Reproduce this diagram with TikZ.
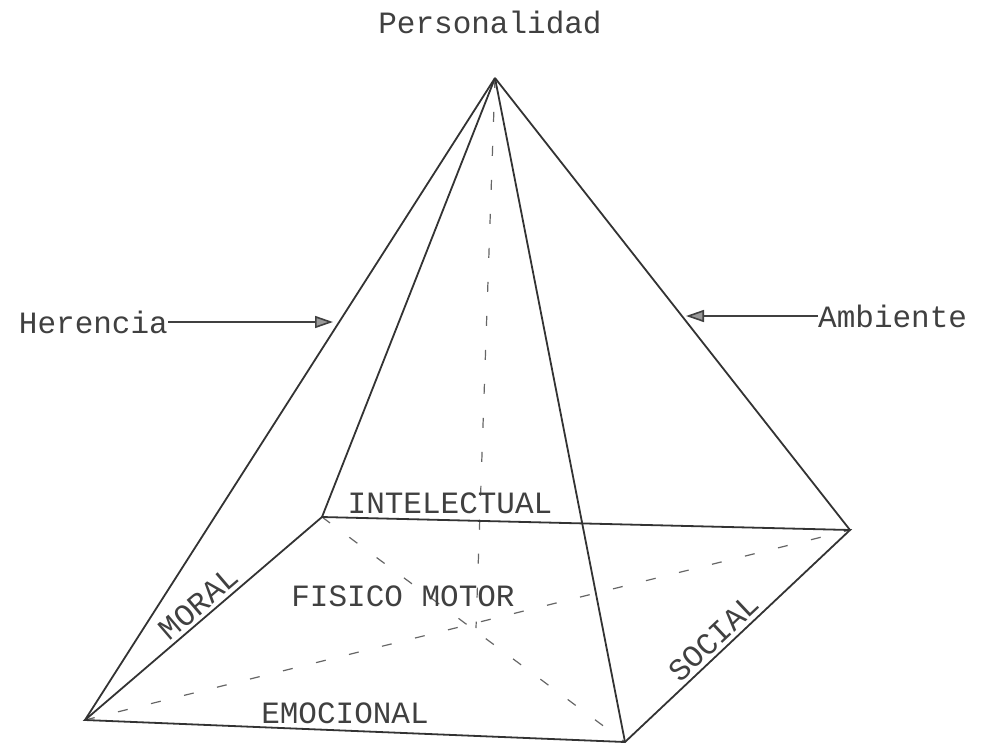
\documentclass[tikz,border=0pt]{standalone}
\usepackage{fontspec}
\setmainfont{Liberation Mono}
\usetikzlibrary{arrows.meta}
\begin{document}
\begin{tikzpicture}[x=1pt,y=-1pt,
  edge/.style={draw=black!80, line width=1.8pt},
  hidden/.style={draw=black!60, line width=1.2pt, dash pattern=on 10pt off 24pt},
  lbl/.style={font=\fontsize{31}{36}\selectfont, text=black!75, inner sep=0pt},
  pointer/.style={draw=black!75, line width=1.6pt, -{Triangle[length=18pt,width=12pt,fill=black!40]}}]
\useasboundingbox (0,0) rectangle (1008,747);
% vertices
\coordinate (A) at (495,78);
\coordinate (BL) at (322,517);
\coordinate (BR) at (850,530);
\coordinate (FR) at (625,742);
\coordinate (FL) at (85,720);
\coordinate (C) at (476,628);
% hidden lines
\draw[hidden] (FL) -- (BR);
\draw[hidden] (BL) -- (FR);
\draw[hidden] (A) -- (C);
% visible edges
\draw[edge] (A) -- (FL);
\draw[edge] (A) -- (BL);
\draw[edge] (A) -- (FR);
\draw[edge] (A) -- (BR);
\draw[edge] (FL) -- (BL) -- (BR) -- (FR) -- cycle;
% labels
\node[lbl] (pers) at (490,22) {Personalidad};
\node[lbl, anchor=east] (her) at (168,322) {Herencia};
\node[lbl, anchor=west] (amb) at (818,316) {Ambiente};
\coordinate (herTip) at (333,322);
\coordinate (ambTip) at (686,316);
\draw[pointer] (her.east) -- (herTip);
\draw[pointer] (amb.west) -- (ambTip);
\node[lbl] (int) at (450,503) {INTELECTUAL};
\node[lbl] (fis) at (403,596) {FISICO MOTOR};
\node[lbl] (emo) at (345,713) {EMOCIONAL};
\path (FL) -- (BL) node[lbl, pos=0.52, sloped, above=4pt] (mor) {MORAL};
\path (FR) -- (BR) node[lbl, pos=0.44, sloped, above=4pt] (soc) {SOCIAL};
\end{tikzpicture}
\end{document}
